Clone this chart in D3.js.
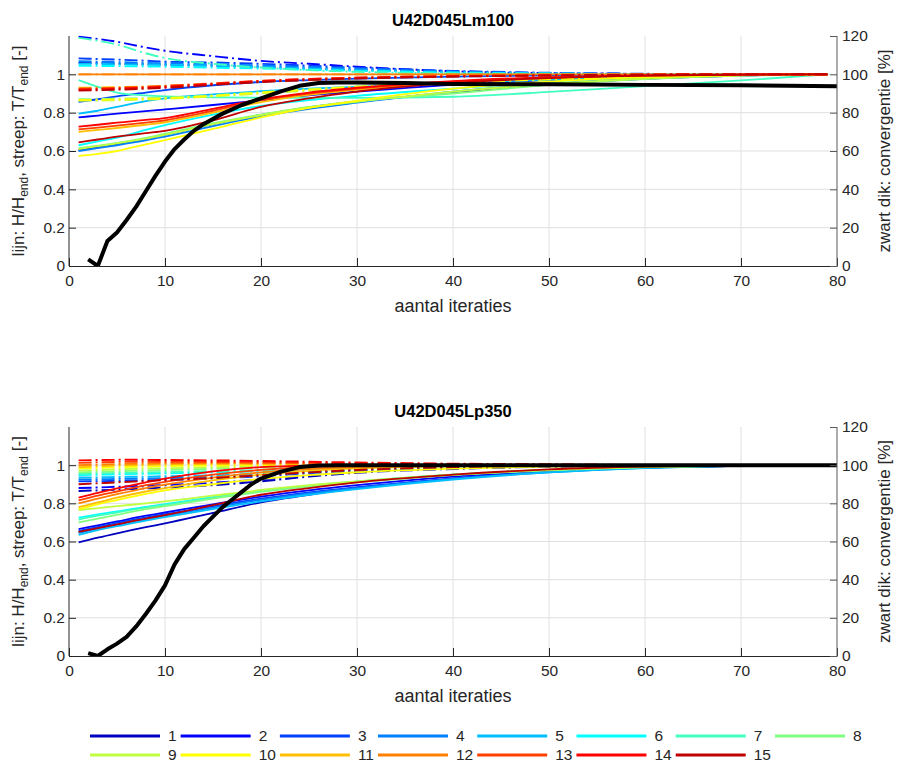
<!DOCTYPE html>
<html><head><meta charset="utf-8">
<script src="https://cdn.jsdelivr.net/npm/d3@7"></script>
<style>body{margin:0;background:#fff}svg{display:block}text{font-family:"Liberation Sans",Arial,Helvetica,sans-serif}</style>
</head><body><svg id="c" width="898" height="763"></svg>
<script>
// ---------------- data ----------------
const iterations = [1,3,5,8,10,15,20,25,30,40,50,60,70,79];
const seriesNames = ["1","2","3","4","5","6","7","8","9","10","11","12","13","14","15"];
const seriesColors = ["#0000bf","#0000ff","#0040ff","#0080ff","#00bfff","#00ffff","#40ffbf","#80ff80","#bfff40","#ffff00","#ffbf00","#ff8000","#ff4000","#ff0000","#bf0000"];
const xTicks = [0,10,20,30,40,50,60,70,80];
const leftTicks = [0,0.2,0.4,0.6,0.8,1];
const rightTicks = [0,20,40,60,80,100,120];
const titles = ["U42D045Lm100","U42D045Lp350"];

// plot 1: U42D045Lm100 — H/H_end (solid)
const lm100H = [
 [0.605,0.62,0.636,0.662,0.685,0.74,0.788,0.828,0.858,0.905,0.948,0.977,0.994,1.0],
 [0.775,0.785,0.795,0.808,0.817,0.84,0.865,0.89,0.91,0.945,0.97,0.988,0.997,1.0],
 [0.857,0.87,0.885,0.905,0.918,0.943,0.96,0.97,0.978,0.988,0.995,0.998,1.0,1.0],
 [0.60,0.615,0.63,0.655,0.675,0.73,0.78,0.82,0.852,0.91,0.95,0.978,0.994,1.0],
 [0.795,0.81,0.83,0.86,0.875,0.895,0.912,0.925,0.935,0.955,0.972,0.987,0.996,1.0],
 [0.63,0.65,0.67,0.71,0.735,0.79,0.835,0.865,0.888,0.925,0.96,0.985,0.996,1.0],
 [0.97,0.935,0.905,0.89,0.885,0.88,0.878,0.877,0.877,0.883,0.908,0.939,0.968,1.0],
 [0.615,0.628,0.642,0.668,0.69,0.745,0.79,0.83,0.86,0.9,0.945,0.975,0.993,1.0],
 [0.61,0.625,0.64,0.665,0.685,0.74,0.787,0.827,0.857,0.91,0.95,0.978,0.994,1.0],
 [0.575,0.585,0.6,0.635,0.657,0.715,0.775,0.825,0.862,0.925,0.962,0.985,0.996,1.0],
 [0.70,0.71,0.72,0.737,0.75,0.80,0.855,0.893,0.92,0.958,0.98,0.993,0.998,1.0],
 [1.0,1.0,1.0,1.0,1.0,1.0,1.0,1.0,1.0,1.0,1.0,1.0,1.0,1.0],
 [0.713,0.722,0.732,0.748,0.76,0.81,0.865,0.9,0.925,0.962,0.983,0.994,0.999,1.0],
 [0.727,0.737,0.748,0.762,0.772,0.82,0.87,0.905,0.93,0.965,0.985,0.995,0.999,1.0],
 [0.645,0.66,0.675,0.693,0.705,0.76,0.83,0.875,0.91,0.955,0.98,0.993,0.998,1.0]
];
// plot 1: T/T_end (dash-dot)
const lm100T = [
 [1.06,1.058,1.055,1.052,1.05,1.045,1.038,1.03,1.023,1.012,1.005,1.002,1.0,1.0],
 [1.196,1.185,1.17,1.14,1.123,1.095,1.07,1.055,1.04,1.016,1.006,1.002,1.0,1.0],
 [1.083,1.08,1.077,1.071,1.066,1.062,1.055,1.045,1.035,1.018,1.008,1.003,1.0,1.0],
 [1.068,1.066,1.064,1.06,1.058,1.053,1.046,1.038,1.03,1.015,1.006,1.002,1.0,1.0],
 [1.055,1.054,1.053,1.051,1.05,1.045,1.038,1.03,1.022,1.01,1.004,1.001,1.0,1.0],
 [1.045,1.044,1.043,1.041,1.04,1.035,1.03,1.024,1.018,1.009,1.004,1.001,1.0,1.0],
 [1.19,1.175,1.155,1.11,1.085,1.055,1.035,1.022,1.013,1.005,1.002,1.0,1.0,1.0],
 [0.87,0.871,0.873,0.876,0.879,0.891,0.907,0.922,0.937,0.96,0.976,0.989,0.996,1.0],
 [0.862,0.863,0.865,0.868,0.872,0.885,0.9,0.915,0.93,0.955,0.973,0.987,0.996,1.0],
 [0.866,0.867,0.869,0.872,0.875,0.888,0.905,0.92,0.935,0.958,0.975,0.988,0.996,1.0],
 [0.93,0.931,0.933,0.936,0.94,0.95,0.962,0.972,0.98,0.99,0.995,0.998,1.0,1.0],
 [1.0,1.0,1.0,1.0,1.0,1.0,1.0,1.0,1.0,1.0,1.0,1.0,1.0,1.0],
 [0.925,0.927,0.93,0.935,0.94,0.953,0.966,0.976,0.983,0.991,0.996,0.999,1.0,1.0],
 [0.92,0.922,0.925,0.93,0.935,0.95,0.965,0.975,0.982,0.99,0.995,0.998,1.0,1.0],
 [0.915,0.917,0.92,0.925,0.93,0.945,0.96,0.97,0.978,0.988,0.994,0.998,1.0,1.0]
];
// plot 1: convergence [%] (thick black)
const lm100ConvIter = [2,3,4,5,6,7,8,9,10,11,12,13,14,16,18,20,22,24,26,28,30,35,40,50,60,70,80];
const lm100Conv = [3.5,0,13,17.5,24,31,39,47,54.5,61,66,70.5,74,79.5,84,87.5,91,94,95.5,95.8,95.8,95.5,95,94.8,94.5,94.3,93.8];

// plot 2: U42D045Lp350 — H/H_end (solid)
const lp350H = [
 [0.595,0.62,0.643,0.675,0.695,0.75,0.805,0.845,0.878,0.93,0.965,0.987,0.997,1.0],
 [0.665,0.685,0.705,0.735,0.752,0.795,0.835,0.868,0.895,0.94,0.97,0.989,0.998,1.0],
 [0.655,0.677,0.697,0.726,0.743,0.785,0.824,0.857,0.885,0.93,0.965,0.987,0.997,1.0],
 [0.645,0.668,0.688,0.718,0.735,0.778,0.818,0.852,0.88,0.928,0.963,0.986,0.997,1.0],
 [0.635,0.66,0.68,0.71,0.728,0.77,0.81,0.845,0.875,0.925,0.962,0.985,0.997,1.0],
 [0.725,0.742,0.758,0.782,0.796,0.832,0.866,0.893,0.914,0.95,0.975,0.99,0.998,1.0],
 [0.715,0.735,0.752,0.778,0.792,0.83,0.865,0.892,0.913,0.95,0.975,0.99,0.998,1.0],
 [0.70,0.72,0.74,0.77,0.785,0.825,0.86,0.888,0.91,0.948,0.973,0.99,0.998,1.0],
 [0.765,0.775,0.785,0.80,0.81,0.84,0.87,0.895,0.915,0.95,0.975,0.99,0.998,1.0],
 [0.77,0.795,0.817,0.85,0.868,0.90,0.928,0.948,0.963,0.982,0.993,0.998,1.0,1.0],
 [0.78,0.805,0.83,0.862,0.88,0.92,0.95,0.97,0.983,0.995,0.999,1.0,1.0,1.0],
 [0.80,0.825,0.848,0.88,0.898,0.935,0.962,0.98,0.99,0.998,1.0,1.0,1.0,1.0],
 [0.815,0.84,0.862,0.895,0.913,0.95,0.975,0.99,0.997,1.0,1.0,1.0,1.0,1.0],
 [0.83,0.855,0.878,0.91,0.93,0.968,0.99,0.998,1.0,1.0,1.0,1.0,1.0,1.0],
 [0.65,0.67,0.69,0.72,0.738,0.79,0.845,0.88,0.91,0.95,0.978,0.993,0.999,1.0]
];
// plot 2: T/T_end (dash-dot)
const lp350T = [
 [0.865,0.868,0.872,0.878,0.882,0.895,0.915,0.94,0.96,0.98,0.992,0.998,1.0,1.0],
 [0.88,0.883,0.887,0.892,0.896,0.908,0.925,0.947,0.965,0.983,0.993,0.998,1.0,1.0],
 [0.915,0.916,0.918,0.921,0.923,0.93,0.942,0.958,0.972,0.987,0.995,0.999,1.0,1.0],
 [0.925,0.926,0.928,0.93,0.932,0.938,0.948,0.962,0.975,0.988,0.995,0.999,1.0,1.0],
 [0.935,0.936,0.938,0.94,0.942,0.947,0.955,0.967,0.978,0.99,0.996,0.999,1.0,1.0],
 [0.948,0.95,0.952,0.955,0.957,0.962,0.968,0.976,0.984,0.993,0.997,0.999,1.0,1.0],
 [0.955,0.957,0.959,0.962,0.964,0.969,0.975,0.981,0.987,0.995,0.998,1.0,1.0,1.0],
 [0.962,0.965,0.968,0.972,0.975,0.981,0.987,0.991,0.994,0.998,1.0,1.0,1.0,1.0],
 [0.972,0.975,0.978,0.982,0.984,0.989,0.993,0.996,0.998,1.0,1.0,1.0,1.0,1.0],
 [0.983,0.986,0.989,0.993,0.995,0.998,1.0,1.001,1.002,1.002,1.001,1.0,1.0,1.0],
 [0.99,0.994,0.998,1.002,1.004,1.006,1.007,1.007,1.006,1.004,1.002,1.0,1.0,1.0],
 [1.0,1.003,1.006,1.009,1.01,1.011,1.01,1.009,1.008,1.005,1.002,1.001,1.0,1.0],
 [1.012,1.015,1.017,1.018,1.018,1.017,1.015,1.012,1.01,1.006,1.003,1.001,1.0,1.0],
 [1.025,1.027,1.028,1.028,1.027,1.025,1.022,1.018,1.014,1.008,1.004,1.001,1.0,1.0],
 [0.90,0.905,0.91,0.917,0.921,0.933,0.947,0.962,0.975,0.99,0.997,1.0,1.0,1.0]
];
// plot 2: convergence [%]
const lp350ConvIter = [2,3,4,5,6,7,8,9,10,11,12,13,14,15,16,17,18,19,20,22,24,26,28,30,40,50,60,70,80];
const lp350Conv = [1.5,0,3.5,6.5,10,15.5,22,29,37,48,56,62,68,73,78,82,86,90,93,96.5,99,99.8,100,100,100,100,100,100,100];

// ---------------- drawing ----------------
const svg = d3.select("#c");
const axisCol = "#262626", rightCol = "#5a5a5a", gridCol = "#dfdfdf";
const left = 69, right = 837;
const panels = [
  {top:36, bot:266, H:lm100H, T:lm100T, ci:lm100ConvIter, cv:lm100Conv, title:titles[0]},
  {top:427, bot:656, H:lp350H, T:lp350T, ci:lp350ConvIter, cv:lp350Conv, title:titles[1]}
];
const x = d3.scaleLinear().domain([0,80]).range([left,right]);

panels.forEach(p => {
  const y = d3.scaleLinear().domain([0,1.2]).range([p.bot,p.top]);
  const yr = d3.scaleLinear().domain([0,120]).range([p.bot,p.top]);
  const g = svg.append("g");
  // grid
  g.selectAll(".gx").data(xTicks.filter(t=>t>0&&t<80)).enter().append("line")
    .attr("x1",d=>x(d)).attr("x2",d=>x(d)).attr("y1",p.top).attr("y2",p.bot)
    .attr("stroke",gridCol).attr("stroke-width",1);
  g.selectAll(".gy").data(leftTicks.filter(t=>t>0)).enter().append("line")
    .attr("x1",left).attr("x2",right).attr("y1",d=>y(d)).attr("y2",d=>y(d))
    .attr("stroke",gridCol).attr("stroke-width",1);

  const line = d3.line().x(d=>x(d[0])).y(d=>y(d[1])).curve(d3.curveMonotoneX);
  const clip = "clip"+p.top;
  svg.append("clipPath").attr("id",clip).append("rect")
    .attr("x",left).attr("y",p.top-2).attr("width",right-left).attr("height",p.bot-p.top+2);
  const lg = g.append("g").attr("clip-path",`url(#${clip})`);
  for (let i=0;i<15;i++){
    lg.append("path").datum(iterations.map((it,k)=>[it,p.H[i][k]]))
      .attr("d",line).attr("fill","none").attr("stroke",seriesColors[i]).attr("stroke-width",1.8);
    lg.append("path").datum(iterations.map((it,k)=>[it,p.T[i][k]]))
      .attr("d",line).attr("fill","none").attr("stroke",seriesColors[i]).attr("stroke-width",1.9)
      .attr("stroke-dasharray","13,4,2,4");
  }
  const cl = d3.line().x(d=>x(d[0])).y(d=>yr(d[1]));
  lg.append("path").datum(p.ci.map((it,k)=>[it,p.cv[k]]))
    .attr("d",cl).attr("fill","none").attr("stroke","#000").attr("stroke-width",4)
    .attr("stroke-linejoin","round");

  // axes
  const ax = g.append("g").attr("transform",`translate(0,${p.bot})`)
    .call(d3.axisBottom(x).tickValues(xTicks).tickSizeInner(-8).tickSizeOuter(0).tickPadding(5));
  const ayl = g.append("g").attr("transform",`translate(${left},0)`)
    .call(d3.axisLeft(y).tickValues(leftTicks).tickFormat(d=>d===0?"0":d===1?"1":d3.format(".1f")(d)).tickSizeInner(-7).tickSizeOuter(0).tickPadding(4));
  const ayr = g.append("g").attr("transform",`translate(${right},0)`)
    .call(d3.axisRight(yr).tickValues(rightTicks).tickSizeInner(-7).tickSizeOuter(0).tickPadding(5));
  [ax,ayl].forEach(a=>{
    a.select(".domain").attr("stroke",axisCol);
    a.selectAll(".tick line").attr("stroke",axisCol);
    a.selectAll("text").attr("fill",axisCol).attr("font-size",15.5).attr("font-family","Liberation Sans, Arial, sans-serif");
  });
  ayl.select(".domain").attr("d",`M0,${p.bot}V${p.top}`);
  ayr.select(".domain").attr("stroke",rightCol).attr("d",`M0,${p.bot}V${p.top}`);
  ayr.selectAll(".tick line").attr("stroke",rightCol);
  ayr.selectAll("text").attr("fill",axisCol).attr("font-size",15.5).attr("font-family","Liberation Sans, Arial, sans-serif");
  ax.selectAll("text").attr("dy","0.95em");

  // title
  g.append("text").attr("x",(left+right)/2).attr("y",p.top-10).attr("text-anchor","middle")
    .attr("font-weight","bold").attr("font-size",16.5).attr("fill","#000").text(p.title);
  // x label
  g.append("text").attr("x",(left+right)/2).attr("y",p.bot+46).attr("text-anchor","middle")
    .attr("font-size",18).attr("fill",axisCol).text("aantal iteraties");
  // left y label with subscripts
  const cy = (p.top+p.bot)/2;
  const yl = g.append("text").attr("transform",`translate(24,${cy}) rotate(-90)`)
    .attr("text-anchor","middle").attr("font-size",17).attr("fill",axisCol);
  yl.append("tspan").text("lijn: H/H");
  yl.append("tspan").attr("font-size",12).attr("dy",4).text("end");
  yl.append("tspan").attr("dy",-4).text(", streep: T/T");
  yl.append("tspan").attr("font-size",12).attr("dy",4).text("end");
  yl.append("tspan").attr("dy",-4).text(" [-]");
  // right y label
  g.append("text").attr("transform",`translate(890,${cy}) rotate(-90)`)
    .attr("text-anchor","middle").attr("font-size",17).attr("fill",axisCol)
    .text("zwart dik: convergentie [%]");
});

// legend
const lgd = svg.append("g");
const nCols = 8, rowY = [736,755], lineLen = 70, startX = 90;
const measure = svg.append("text").attr("font-size",15.5).attr("visibility","hidden");
const colW = [];
for (let c=0;c<nCols;c++){
  let w = 0;
  [c, c+nCols].forEach(i=>{ if(i<seriesNames.length){ measure.text(seriesNames[i]); w=Math.max(w,measure.node().getComputedTextLength()); }});
  colW.push(lineLen+8+w+4);
}
measure.remove();
let cx = startX; const colX = [];
for (let c=0;c<nCols;c++){ colX.push(cx); cx += colW[c]; }
seriesNames.forEach((n,i)=>{
  const r = Math.floor(i/nCols), c = i%nCols;
  const gx = colX[c], gy = rowY[r];
  lgd.append("line").attr("x1",gx).attr("x2",gx+lineLen).attr("y1",gy).attr("y2",gy)
    .attr("stroke",seriesColors[i]).attr("stroke-width",3.2);
  lgd.append("text").attr("x",gx+lineLen+8).attr("y",gy).attr("dy","0.35em")
    .attr("font-size",15.5).attr("fill",axisCol).text(n);
});
</script></body></html>
